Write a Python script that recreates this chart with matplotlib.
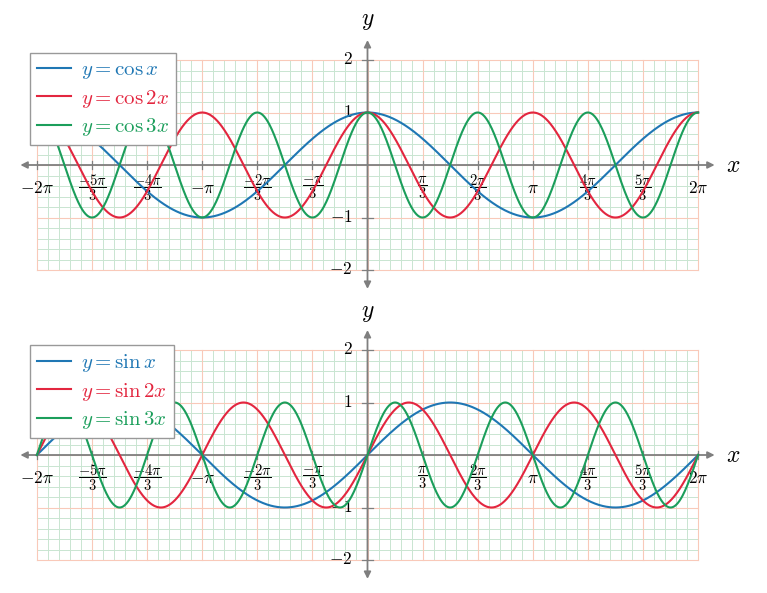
import numpy as np
import matplotlib
matplotlib.use('Agg')
import matplotlib.pyplot as plt

plt.rcParams['mathtext.fontset'] = 'cm'
plt.rcParams['font.family'] = 'serif'
plt.rcParams['font.serif'] = ['DejaVu Serif']

# chart content
freqs = [1, 2, 3]
colors = ['#1f77b4', '#e3263f', '#1b9e5b']
cos_labels = [r'$y = \cos x$', r'$y = \cos 2x$', r'$y = \cos 3x$']
sin_labels = [r'$y = \sin x$', r'$y = \sin 2x$', r'$y = \sin 3x$']
x_ticks_n = [-6, -5, -4, -3, -2, -1, 1, 2, 3, 4, 5, 6]   # multiples of pi/3
x_tick_labels = [r'$-2\pi$', r'$\dfrac{-5\pi}{3}$', r'$\dfrac{-4\pi}{3}$', r'$-\pi$',
                 r'$\dfrac{-2\pi}{3}$', r'$\dfrac{-\pi}{3}$', r'$\dfrac{\pi}{3}$',
                 r'$\dfrac{2\pi}{3}$', r'$\pi$', r'$\dfrac{4\pi}{3}$', r'$\dfrac{5\pi}{3}$',
                 r'$2\pi$']
y_ticks = [-2, -1, 1, 2]

W, H = 767, 593
PX_PI = 165.3      # pixels per pi in x
PX_Y = 52.5        # pixels per unit in y
X0 = 367.5         # pixel column of x = 0

GRID_MAJOR = '#f9c9b9'
GRID_MINOR = '#c9e5d1'
AXIS_GRAY = '#7f7f7f'

fig = plt.figure(figsize=(W / 100, H / 100), dpi=100)


def make_axes(top_px, bottom_px, y0_px):
    ax = fig.add_axes([0, 1 - bottom_px / H, 1, (bottom_px - top_px) / H])
    ax.set_xlim((0 - X0) / PX_PI * np.pi, (W - X0) / PX_PI * np.pi)
    ax.set_ylim((y0_px - bottom_px) / PX_Y, (y0_px - top_px) / PX_Y)
    ax.axis('off')
    return ax


def draw_panel(ax, func, labels, leg_anchor_px, y_label_px):
    lo, hi = -2 * np.pi, 2 * np.pi
    # minor grid
    for xv in np.arange(-30, 31) * np.pi / 15:
        ax.plot([xv, xv], [-2, 2], color=GRID_MINOR, lw=0.7, zorder=1)
    for yv in np.arange(-10, 11) * 0.2:
        ax.plot([lo, hi], [yv, yv], color=GRID_MINOR, lw=0.7, zorder=1)
    # major grid
    for xv in np.arange(-6, 7) * np.pi / 3:
        ax.plot([xv, xv], [-2, 2], color=GRID_MAJOR, lw=0.8, zorder=2)
    for yv in range(-2, 3):
        ax.plot([lo, hi], [yv, yv], color=GRID_MAJOR, lw=0.8, zorder=2)

    # axes with arrows
    ax.annotate('', xy=(2.1 * np.pi, 0), xytext=(-2.1 * np.pi, 0),
                arrowprops=dict(arrowstyle='<|-|>', color=AXIS_GRAY, lw=1.3,
                                mutation_scale=10, shrinkA=0, shrinkB=0), zorder=3)
    ax.annotate('', xy=(0, 2.38), xytext=(0, -2.36),
                arrowprops=dict(arrowstyle='<|-|>', color=AXIS_GRAY, lw=1.3,
                                mutation_scale=10, shrinkA=0, shrinkB=0), zorder=3)

    # ticks and tick labels
    for n, lab in zip(x_ticks_n, x_tick_labels):
        xv = n * np.pi / 3
        ax.plot([xv, xv], [-0.08, 0.08], color=AXIS_GRAY, lw=0.9, zorder=3)
        size = 12.5 if abs(n) in (3, 6) else 10.5
        ax.text(xv, -0.44, lab, ha='center', va='center', fontsize=size, zorder=4)
    for yv in y_ticks:
        ax.plot([-0.035 * np.pi, 0.035 * np.pi], [yv, yv], color=AXIS_GRAY, lw=0.9, zorder=3)
        ax.text(-0.09 * np.pi, yv, r'$%d$' % yv, ha='right', va='center', fontsize=12.5, zorder=4)

    ax.text(2.21 * np.pi, 0, r'$x$', ha='center', va='center', fontsize=17, zorder=4)
    ax.text(0, y_label_px, r'$y$', ha='center', va='center', fontsize=17, zorder=4)

    # curves
    xs = np.linspace(lo, hi, 1200)
    for f, c, lab in zip(freqs, colors, labels):
        ax.plot(xs, func(f * xs), color=c, lw=1.5, label=lab, zorder=5)

    lx, ly = leg_anchor_px
    trans = fig.transFigure
    leg = ax.legend(loc='upper left', bbox_to_anchor=(lx / W, 1 - ly / H),
                    bbox_transform=trans, fontsize=15, labelcolor='linecolor',
                    frameon=True, fancybox=False, framealpha=1, edgecolor='#999999',
                    handlelength=1.6, handletextpad=0.5, labelspacing=0.3,
                    borderpad=0.35, borderaxespad=0)
    leg.get_frame().set_linewidth(1.0)
    leg.set_zorder(10)


ax1 = make_axes(0, 292, 165)
draw_panel(ax1, np.cos, cos_labels, (30, 53), (165 - 20) / PX_Y)

ax2 = make_axes(292, 593, 455)
draw_panel(ax2, np.sin, sin_labels, (30, 345), (455 - 312) / PX_Y)

fig.savefig('out.png', dpi=100)
